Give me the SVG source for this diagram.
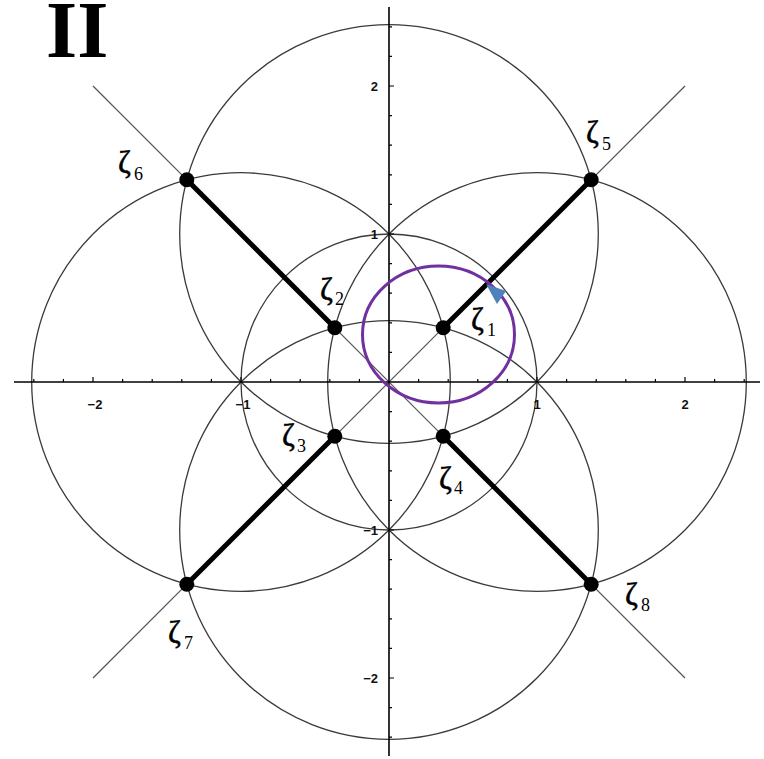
<svg xmlns="http://www.w3.org/2000/svg" width="764" height="759" viewBox="0 0 764 759">
<style>
.grid{fill:none;stroke:#3a3a3a;stroke-width:1.3}
.diag{fill:none;stroke:#555;stroke-width:1.2}
.axis{fill:none;stroke:#000;stroke-width:1.6}
.tick{fill:none;stroke:#000;stroke-width:1.2}
.tl{font-family:"Liberation Sans",Arial,sans-serif;font-size:13px;font-weight:bold;fill:#111}
.edge{stroke:#000;stroke-width:5;stroke-linecap:round}
.pt{fill:#000}
.z{font-family:"Liberation Serif","Times New Roman",serif;font-size:31px;fill:#000;stroke:#000;stroke-width:0.5}
.s{font-family:"Liberation Serif","Times New Roman",serif;font-size:18px;fill:#000}
</style>
<rect width="764" height="759" fill="#fff"/>
<text x="46" y="57" font-family="Liberation Serif,Times New Roman,serif" font-weight="bold" font-size="80">II</text>
<g id="background">
<circle class="grid" cx="389" cy="382" r="148"/>
<circle class="grid" cx="389" cy="234" r="209.3"/>
<circle class="grid" cx="389" cy="530" r="209.3"/>
<circle class="grid" cx="537" cy="382" r="209.3"/>
<circle class="grid" cx="241" cy="382" r="209.3"/>
<line class="diag" x1="93" y1="86" x2="685" y2="678"/>
<line class="diag" x1="93" y1="678" x2="685" y2="86"/>
<line class="axis" x1="14" y1="382" x2="760" y2="382"/>
<line class="axis" x1="389" y1="7" x2="389" y2="756"/>
<path class="tick" d="M418.6 382v-3M448.2 382v-3M477.8 382v-3M507.4 382v-3M537 382v-5M566.6 382v-3M596.2 382v-3M625.8 382v-3M655.4 382v-3M685 382v-5M714.6 382v-3M744.2 382v-3M359.4 382v-3M329.8 382v-3M300.2 382v-3M270.6 382v-3M241 382v-5M211.4 382v-3M181.8 382v-3M152.2 382v-3M122.6 382v-3M93 382v-5M63.4 382v-3M33.8 382v-3"/>
<path class="tick" d="M389 352.4h3M389 322.8h3M389 293.2h3M389 263.6h3M389 234h5M389 204.4h3M389 174.8h3M389 145.2h3M389 115.6h3M389 86h5M389 56.4h3M389 26.8h3M389 411.6h3M389 441.2h3M389 470.8h3M389 500.4h3M389 530h5M389 559.6h3M389 589.2h3M389 618.8h3M389 648.4h3M389 678h5M389 707.6h3M389 737.2h3"/>
<text class="tl" x="95" y="409" text-anchor="middle">−2</text>
<text class="tl" x="243" y="409" text-anchor="middle">−1</text>
<text class="tl" x="537" y="409" text-anchor="middle">1</text>
<text class="tl" x="685" y="409" text-anchor="middle">2</text>
<text class="tl" x="378" y="91" text-anchor="end">2</text>
<text class="tl" x="378" y="239" text-anchor="end">1</text>
<text class="tl" x="378" y="535" text-anchor="end">−1</text>
<text class="tl" x="378" y="683" text-anchor="end">−2</text>
</g>
<g id="connectors">
<line class="edge" x1="443.2" y1="327.8" x2="591.2" y2="179.8"/>
<line class="edge" x1="334.8" y1="327.8" x2="186.8" y2="179.8"/>
<line class="edge" x1="334.8" y1="436.2" x2="186.8" y2="584.2"/>
<line class="edge" x1="443.2" y1="436.2" x2="591.2" y2="584.2"/>
</g>
<g id="loop">
<ellipse cx="438.5" cy="334.5" rx="76" ry="68.5" fill="none" stroke="#7030A0" stroke-width="3"/>
<polygon points="486,284 506,291 497,304" fill="#4F81BD"/>
</g>
<g id="z1"><circle class="pt" cx="443.2" cy="327.8" r="7.5"/><text class="z" x="471" y="330">ζ</text><text class="s" x="487" y="336">1</text></g>
<g id="z2"><circle class="pt" cx="334.8" cy="327.8" r="7.5"/><text class="z" x="320" y="300">ζ</text><text class="s" x="335" y="305">2</text></g>
<g id="z3"><circle class="pt" cx="334.8" cy="436.2" r="7.5"/><text class="z" x="282" y="446">ζ</text><text class="s" x="297" y="452">3</text></g>
<g id="z4"><circle class="pt" cx="443.2" cy="436.2" r="7.5"/><text class="z" x="439" y="489">ζ</text><text class="s" x="454" y="494">4</text></g>
<g id="z5"><circle class="pt" cx="591.2" cy="179.8" r="7.5"/><text class="z" x="586" y="143">ζ</text><text class="s" x="602" y="150">5</text></g>
<g id="z6"><circle class="pt" cx="186.8" cy="179.8" r="7.5"/><text class="z" x="118" y="173">ζ</text><text class="s" x="134" y="180">6</text></g>
<g id="z7"><circle class="pt" cx="186.8" cy="584.2" r="7.5"/><text class="z" x="168" y="643">ζ</text><text class="s" x="184" y="649">7</text></g>
<g id="z8"><circle class="pt" cx="591.2" cy="584.2" r="7.5"/><text class="z" x="625" y="605">ζ</text><text class="s" x="641" y="611">8</text></g>
</svg>
